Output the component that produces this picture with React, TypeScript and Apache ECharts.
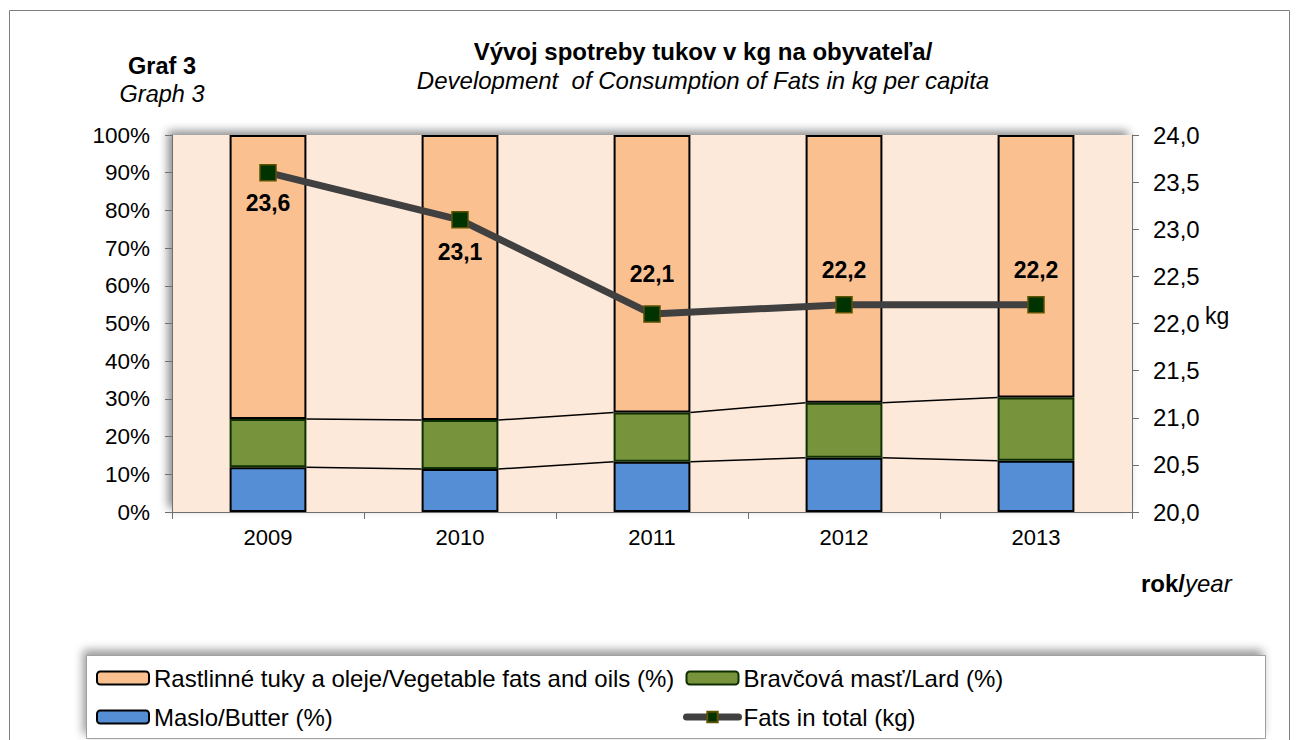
import React, { useEffect, useRef } from "react";
import * as echarts from "echarts";

const years = ["2009", "2010", "2011", "2012", "2013"];
const butter = [11.9, 11.4, 13.3, 14.4, 13.6];
const lard = [12.8, 13.0, 13.1, 14.6, 16.8];
const veg = [75.3, 75.6, 73.6, 71.0, 69.6];
const totalKg = [23.6, 23.1, 22.1, 22.2, 22.2];

const NAME_VEG = "Rastlinné tuky a oleje/Vegetable fats and oils (%)";
const NAME_LARD = "Bravčová masť/Lard (%)";
const NAME_BUTTER = "Maslo/Butter (%)";
const NAME_TOTAL = "Fats in total (kg)";

const FONT = "'Liberation Sans', Arial, sans-serif";

export default function App() {
  const ref = useRef<HTMLDivElement>(null);

  useEffect(() => {
    document.body.style.margin = "0";
    if (!ref.current) return;
    const chart = echarts.init(ref.current, null, { renderer: "svg" });

    const cumButter = butter.slice();
    const cumLard = butter.map((b, i) => b + lard[i]);
    const connectorData: number[][] = [];
    for (let i = 0; i < years.length - 1; i++) {
      connectorData.push([i, cumButter[i], cumButter[i + 1]]);
      connectorData.push([i, cumLard[i], cumLard[i + 1]]);
    }

    const labelPos = ["bottom", "bottom", "top", "top", "top"];
    const labelDist = [10, 12, 20, 14, 14];

    const option: any = {
      animation: false,
      backgroundColor: "#ffffff",
      textStyle: { fontFamily: FONT, color: "#000" },
      title: [
        {
          text: "Vývoj spotreby tukov v kg na obyvateľa/",
          left: 703,
          top: 39,
          textAlign: "center",
          padding: 0,
          textStyle: { fontSize: 24, fontWeight: "bold", color: "#000", fontFamily: FONT },
        },
        {
          text: "Development  of Consumption of Fats in kg per capita",
          left: 703,
          top: 68,
          textAlign: "center",
          padding: 0,
          textStyle: { fontSize: 24, fontWeight: "normal", fontStyle: "italic", color: "#000", fontFamily: FONT },
        },
        {
          text: "Graf 3",
          left: 162,
          top: 54,
          textAlign: "center",
          padding: 0,
          textStyle: { fontSize: 23.5, fontWeight: "bold", color: "#000", fontFamily: FONT },
        },
        {
          text: "Graph 3",
          left: 162,
          top: 82,
          textAlign: "center",
          padding: 0,
          textStyle: { fontSize: 23.5, fontWeight: "normal", fontStyle: "italic", color: "#000", fontFamily: FONT },
        },
      ],
      graphic: [
        {
          type: "rect",
          z: -20,
          shape: { x: 9.5, y: 10.5, width: 1280, height: 740 },
          style: { fill: "#ffffff", stroke: "#7f7f7f", lineWidth: 1 },
          silent: true,
        },
        {
          type: "rect",
          z: -10,
          shape: { x: 172, y: 135, width: 960, height: 377 },
          style: {
            fill: "#FDE9D9",
            shadowBlur: 10,
            shadowOffsetX: -4,
            shadowOffsetY: -4,
            shadowColor: "rgba(0,0,0,0.45)",
          },
          silent: true,
        },
        {
          type: "rect",
          z: -10,
          shape: { x: 86.5, y: 655.5, width: 1179, height: 83 },
          style: {
            fill: "#ffffff",
            stroke: "#a0a0a0",
            lineWidth: 1,
            shadowBlur: 10,
            shadowOffsetX: -3,
            shadowOffsetY: -5,
            shadowColor: "rgba(0,0,0,0.4)",
          },
          silent: true,
        },
        {
          type: "text",
          x: 1141,
          y: 583,
          style: {
            text: "{b|rok/}{i|year}",
            verticalAlign: "middle",
            rich: {
              b: { fontSize: 24, fontWeight: "bold", fontFamily: FONT, fill: "#000" },
              i: { fontSize: 24, fontStyle: "italic", fontFamily: FONT, fill: "#000" },
            },
          },
        },
        {
          type: "text",
          x: 1205,
          y: 316,
          style: {
            text: "kg",
            verticalAlign: "middle",
            fontSize: 23,
            fontFamily: FONT,
            fill: "#000",
          },
        },
      ],
      legend: [
        {
          orient: "vertical",
          left: 96,
          top: 665,
          padding: 0,
          itemWidth: 52,
          itemHeight: 13,
          itemGap: 13,
          icon: "roundRect",
          data: [NAME_VEG, NAME_BUTTER],
          textStyle: { fontSize: 24, lineHeight: 26, color: "#000", fontFamily: FONT },
        },
        {
          orient: "vertical",
          left: 683,
          top: 665,
          padding: 0,
          itemWidth: 52,
          itemHeight: 13,
          itemGap: 13,
          data: [
            { name: NAME_LARD, icon: "roundRect" },
            {
              name: NAME_TOTAL,
              lineStyle: { width: 7, color: "#404040", cap: "round" },
            },
          ],
          textStyle: { fontSize: 24, lineHeight: 26, color: "#000", fontFamily: FONT },
        },
      ],
      grid: { left: 172, top: 135, width: 960, height: 377, containLabel: false },
      xAxis: {
        type: "category",
        data: years,
        boundaryGap: true,
        axisLine: { lineStyle: { color: "#6f6f6f", width: 1 } },
        axisTick: { show: true, alignWithLabel: false, length: 7, lineStyle: { color: "#6f6f6f" } },
        axisLabel: { fontSize: 22, color: "#000", margin: 14, fontFamily: FONT },
        splitLine: { show: false },
      },
      yAxis: [
        {
          type: "value",
          min: 0,
          max: 100,
          interval: 10,
          axisLine: { show: true, lineStyle: { color: "#6f6f6f" } },
          axisTick: { show: true, length: 7, lineStyle: { color: "#6f6f6f" } },
          axisLabel: { formatter: "{value}%", fontSize: 22.5, color: "#000", margin: 22, fontFamily: FONT },
          splitLine: { show: false },
        },
        {
          type: "value",
          min: 20,
          max: 24,
          interval: 0.5,
          position: "right",
          axisLine: { show: true, lineStyle: { color: "#6f6f6f" } },
          axisTick: { show: true, length: 7, lineStyle: { color: "#6f6f6f" } },
          axisLabel: {
            formatter: (v: number) => v.toFixed(1).replace(".", ","),
            fontSize: 24,
            color: "#000",
            margin: 21,
            fontFamily: FONT,
          },
          splitLine: { show: false },
        },
      ],
      series: [
        {
          name: NAME_BUTTER,
          type: "bar",
          stack: "share",
          barWidth: "40%",
          data: butter,
          itemStyle: { color: "#558ED5", borderColor: "#000", borderWidth: 2 },
        },
        {
          name: NAME_LARD,
          type: "bar",
          stack: "share",
          barWidth: "40%",
          data: lard,
          itemStyle: { color: "#77933C", borderColor: "#0E2F00", borderWidth: 2 },
        },
        {
          name: NAME_VEG,
          type: "bar",
          stack: "share",
          barWidth: "40%",
          data: veg,
          itemStyle: { color: "#FAC090", borderColor: "#000", borderWidth: 2 },
        },
        {
          type: "custom",
          name: "connectors",
          silent: true,
          z: 3,
          data: connectorData,
          encode: { x: 0, y: [1, 2] },
          renderItem: (params: any, api: any) => {
            const i = api.value(0);
            const p1 = api.coord([i, api.value(1)]);
            const p2 = api.coord([i + 1, api.value(2)]);
            const half = api.size([1, 0])[0] * 0.2;
            return {
              type: "line",
              shape: { x1: p1[0] + half, y1: p1[1], x2: p2[0] - half, y2: p2[1] },
              style: { stroke: "#000", lineWidth: 1.5 },
            };
          },
        },
        {
          name: NAME_TOTAL,
          type: "line",
          yAxisIndex: 1,
          z: 5,
          data: totalKg.map((v, i) => ({
            value: v,
            label: { position: labelPos[i], distance: labelDist[i] },
          })),
          symbol: "rect",
          symbolSize: 16,
          lineStyle: { color: "#404040", width: 7 },
          itemStyle: { color: "#003300", borderColor: "#5c5200", borderWidth: 1.5 },
          label: {
            show: true,
            fontSize: 23,
            fontWeight: "bold",
            color: "#000",
            fontFamily: FONT,
            formatter: (p: any) => Number(p.value).toFixed(1).replace(".", ","),
          },
        },
      ],
    };

    chart.setOption(option);
    return () => chart.dispose();
  }, []);

  return <div ref={ref} style={{ width: 1298, height: 740 }} />;
}
